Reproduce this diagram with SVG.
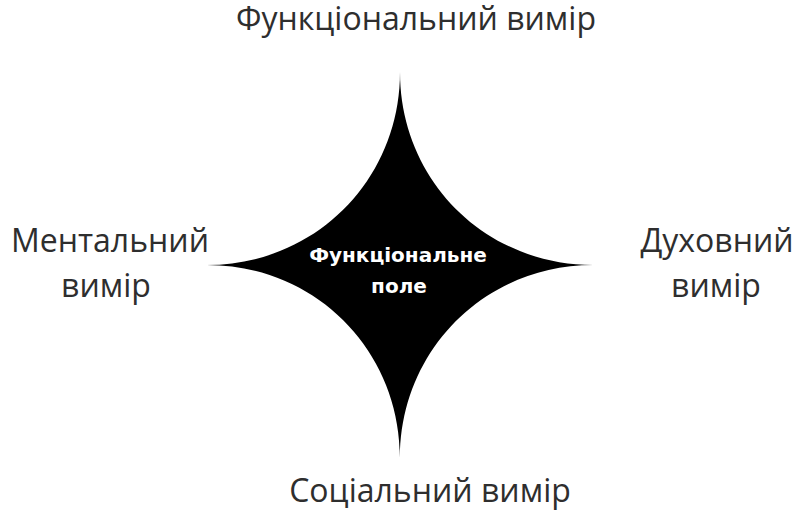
<svg xmlns="http://www.w3.org/2000/svg" width="797" height="510" viewBox="0 0 797 510">
<style>
.lbl{font-family:"Open Sans","DejaVu Sans",sans-serif;font-size:32px;fill:#2e2e2e;text-anchor:middle}
.in{font-family:"DejaVu Sans","Liberation Sans",sans-serif;font-weight:bold;font-size:20px;fill:#ffffff;text-anchor:middle}
</style>
<rect width="797" height="510" fill="#ffffff"/>
<g id="star">
<path d="M400,72 C400,180 485,265 593,265 C485,265 400,350 400,458 C400,350 315,265 207,265 C315,265 400,180 400,72 Z" fill="#000000"/>
<text class="in" x="398" y="262">Функціональне</text>
<text class="in" x="399" y="293">поле</text>
</g>
<g id="top"><text class="lbl" x="416" y="30">Функціональний вимір</text></g>
<g id="left"><text class="lbl" x="110" y="252">Ментальний</text><text class="lbl" x="106" y="297">вимір</text></g>
<g id="right"><text class="lbl" x="717" y="252">Духовний</text><text class="lbl" x="716" y="297">вимір</text></g>
<g id="bottom"><text class="lbl" x="430" y="502">Соціальний вимір</text></g>
<g id="connectors"></g>
</svg>
